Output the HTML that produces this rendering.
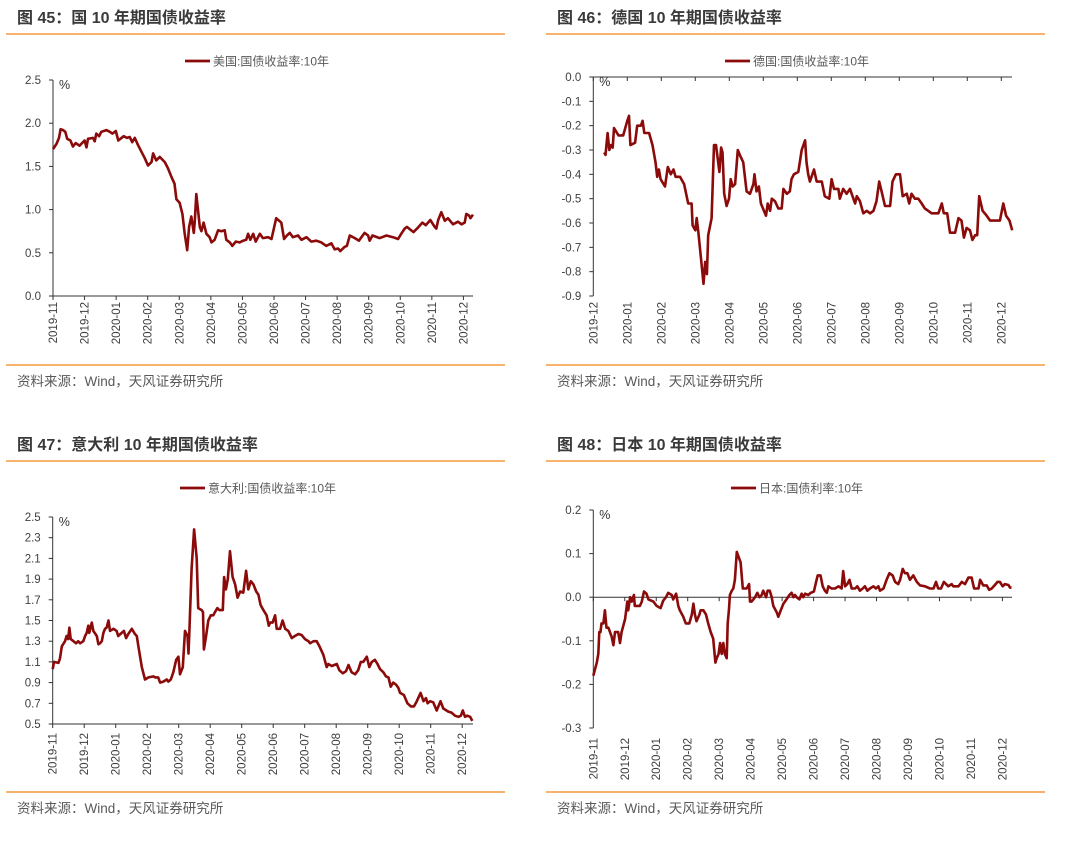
<!DOCTYPE html>
<html><head><meta charset="utf-8"><style>
body{margin:0;width:1080px;height:832px;background:#fff;position:relative;overflow:hidden;font-family:"Liberation Sans","Noto Sans CJK SC",sans-serif}
.panel{position:absolute;width:540px;height:416px}
svg text{font-family:"Liberation Sans","Noto Sans CJK SC",sans-serif}
</style></head><body>
<div class="panel" style="left:0;top:0"><svg id="c0" width="540" height="416"></svg></div>
<div class="panel" style="left:540px;top:0"><svg id="c1" width="540" height="416"></svg></div>
<div class="panel" style="left:0;top:427px"><svg id="c2" width="540" height="416"></svg></div>
<div class="panel" style="left:540px;top:427px"><svg id="c3" width="540" height="416"></svg></div>
<script>
const monthsA=["2019-11","2019-12","2020-01","2020-02","2020-03","2020-04","2020-05","2020-06","2020-07","2020-08","2020-09","2020-10","2020-11","2020-12"];
const monthsB=["2019-12","2020-01","2020-02","2020-03","2020-04","2020-05","2020-06","2020-07","2020-08","2020-09","2020-10","2020-11","2020-12"];
const usTicks=[0,0.5,1.0,1.5,2.0,2.5];
const deTicks=[0,-0.1,-0.2,-0.3,-0.4,-0.5,-0.6,-0.7,-0.8,-0.9];
const itTicks=[0.5,0.7,0.9,1.1,1.3,1.5,1.7,1.9,2.1,2.3,2.5];
const jpTicks=[0.2,0.1,0,-0.1,-0.2,-0.3];
// x = months since first tick month
const usT=[0,.11,.19,.24,.32,.39,.45,.55,.63,.72,.84,1.00,1.06,1.11,1.27,1.32,1.37,1.46,1.53,1.69,1.80,1.88,1.99,2.07,2.24,2.34,2.43,2.51,2.59,2.69,2.80,2.90,3.01,3.12,3.17,3.27,3.38,3.54,3.64,3.75,3.85,3.91,4.01,4.10,4.17,4.25,4.31,4.38,4.46,4.49,4.54,4.65,4.70,4.77,4.86,4.96,5.02,5.12,5.23,5.33,5.44,5.49,5.60,5.68,5.79,5.91,6.02,6.12,6.18,6.25,6.34,6.42,6.55,6.65,6.81,6.92,7.07,7.23,7.32,7.41,7.50,7.60,7.76,7.87,8.03,8.18,8.34,8.50,8.66,8.82,8.92,9.03,9.10,9.24,9.31,9.40,9.56,9.69,9.87,9.98,10.03,10.12,10.35,10.56,10.77,10.93,11.03,11.14,11.21,11.42,11.53,11.70,11.81,11.95,12.09,12.14,12.20,12.30,12.41,12.51,12.67,12.83,12.94,13.04,13.09,13.18,13.22,13.28,13.31];
const usV=[1.70,1.76,1.83,1.93,1.92,1.90,1.82,1.80,1.73,1.77,1.74,1.80,1.72,1.82,1.83,1.79,1.88,1.85,1.90,1.92,1.90,1.88,1.91,1.80,1.85,1.83,1.84,1.78,1.83,1.75,1.67,1.60,1.51,1.55,1.65,1.57,1.61,1.55,1.48,1.38,1.30,1.12,1.08,0.95,0.73,0.53,0.80,0.92,0.73,0.85,1.18,0.80,0.75,0.85,0.72,0.68,0.62,0.65,0.76,0.75,0.76,0.65,0.62,0.58,0.63,0.62,0.64,0.65,0.72,0.65,0.72,0.63,0.72,0.67,0.68,0.66,0.90,0.85,0.66,0.70,0.73,0.68,0.70,0.65,0.68,0.63,0.64,0.62,0.58,0.61,0.54,0.55,0.52,0.57,0.58,0.70,0.67,0.64,0.73,0.70,0.64,0.70,0.67,0.70,0.68,0.66,0.72,0.78,0.80,0.74,0.78,0.85,0.82,0.88,0.80,0.78,0.88,0.97,0.87,0.90,0.83,0.86,0.83,0.85,0.95,0.93,0.90,0.93,0.92];
const deT=[.32,.36,.42,.47,.52,.57,.61,.74,.88,1.00,1.05,1.09,1.23,1.29,1.40,1.45,1.50,1.64,1.74,1.83,1.88,1.93,1.98,2.11,2.19,2.28,2.36,2.42,2.55,2.67,2.79,2.89,2.92,3.00,3.04,3.09,3.17,3.24,3.29,3.34,3.38,3.48,3.55,3.61,3.71,3.76,3.80,3.85,3.92,3.99,4.04,4.10,4.17,4.25,4.31,4.41,4.51,4.61,4.71,4.74,4.80,4.87,4.93,5.08,5.13,5.20,5.25,5.34,5.44,5.54,5.59,5.69,5.78,5.83,5.90,6.03,6.13,6.23,6.27,6.32,6.37,6.49,6.57,6.72,6.81,6.94,7.01,7.08,7.21,7.25,7.35,7.45,7.55,7.65,7.70,7.75,7.84,7.94,8.04,8.14,8.24,8.33,8.41,8.48,8.58,8.73,8.80,8.90,9.02,9.10,9.22,9.29,9.36,9.46,9.56,9.66,9.75,9.85,9.95,10.15,10.25,10.31,10.41,10.49,10.64,10.74,10.83,10.90,10.98,11.08,11.15,11.23,11.29,11.35,11.45,11.57,11.67,11.96,12.06,12.14,12.24,12.32];
const deV=[-.31,-.32,-.23,-.30,-.28,-.29,-.21,-.24,-.24,-.18,-.16,-.28,-.27,-.20,-.20,-.18,-.23,-.23,-.28,-.35,-.41,-.38,-.42,-.45,-.37,-.40,-.38,-.41,-.41,-.44,-.52,-.52,-.61,-.63,-.58,-.64,-.75,-.85,-.76,-.81,-.65,-.58,-.28,-.28,-.39,-.29,-.31,-.48,-.53,-.50,-.42,-.45,-.44,-.30,-.32,-.35,-.47,-.48,-.44,-.40,-.47,-.45,-.52,-.57,-.52,-.55,-.50,-.51,-.54,-.54,-.46,-.48,-.47,-.42,-.40,-.39,-.30,-.26,-.35,-.40,-.43,-.38,-.43,-.43,-.49,-.50,-.42,-.46,-.46,-.50,-.46,-.48,-.46,-.50,-.52,-.49,-.51,-.56,-.55,-.56,-.55,-.51,-.43,-.47,-.53,-.53,-.43,-.40,-.40,-.49,-.48,-.52,-.48,-.50,-.50,-.52,-.54,-.55,-.56,-.56,-.52,-.56,-.56,-.64,-.64,-.58,-.59,-.66,-.62,-.63,-.67,-.65,-.65,-.49,-.55,-.57,-.59,-.59,-.52,-.57,-.59,-.63];
const itT=[0,.04,.18,.23,.29,.39,.44,.49,.53,.57,.66,.74,.81,.87,.97,1.03,1.08,1.13,1.16,1.24,1.29,1.40,1.45,1.50,1.56,1.61,1.66,1.71,1.77,1.82,1.93,2.03,2.08,2.19,2.26,2.33,2.40,2.51,2.61,2.67,2.72,2.83,2.93,3.04,3.20,3.25,3.35,3.41,3.51,3.62,3.67,3.75,3.83,3.92,3.99,4.04,4.13,4.20,4.28,4.31,4.34,4.41,4.49,4.57,4.62,4.73,4.77,4.80,4.87,4.94,5.02,5.10,5.15,5.23,5.29,5.40,5.44,5.50,5.56,5.63,5.71,5.79,5.87,5.95,6.05,6.14,6.21,6.29,6.37,6.46,6.53,6.60,6.69,6.79,6.86,6.90,6.98,7.06,7.11,7.22,7.30,7.38,7.48,7.59,7.69,7.80,7.90,8.01,8.12,8.17,8.28,8.38,8.47,8.59,8.70,8.75,8.86,8.94,9.02,9.10,9.21,9.31,9.39,9.49,9.60,9.70,9.78,9.86,9.97,10.05,10.13,10.23,10.31,10.39,10.50,10.58,10.66,10.73,10.81,10.90,10.97,11.03,11.15,11.26,11.37,11.47,11.56,11.68,11.77,11.85,11.90,11.98,12.08,12.19,12.31,12.40,12.56,12.66,12.77,12.88,12.96,13.02,13.09,13.16,13.25,13.32];
const itV=[1.03,1.10,1.09,1.13,1.25,1.30,1.35,1.32,1.43,1.32,1.30,1.28,1.30,1.28,1.30,1.35,1.38,1.45,1.38,1.48,1.40,1.35,1.27,1.28,1.30,1.38,1.42,1.43,1.50,1.40,1.42,1.40,1.35,1.38,1.40,1.33,1.37,1.42,1.37,1.35,1.25,1.05,0.93,0.95,0.96,0.95,0.95,0.90,0.91,0.93,0.91,0.93,1.00,1.12,1.15,0.98,1.05,1.40,1.35,1.18,1.40,2.00,2.38,2.10,1.62,1.60,1.58,1.22,1.35,1.50,1.55,1.55,1.58,1.62,1.60,1.60,1.92,1.80,1.90,2.17,1.92,1.85,1.72,1.78,1.77,1.98,1.80,1.88,1.85,1.78,1.75,1.65,1.60,1.55,1.45,1.48,1.48,1.55,1.42,1.42,1.50,1.42,1.40,1.33,1.35,1.37,1.36,1.32,1.30,1.28,1.30,1.30,1.25,1.17,1.05,1.08,1.06,1.07,1.08,1.02,0.99,1.01,1.07,1.00,0.98,1.02,1.10,1.10,1.15,1.05,1.10,1.12,1.08,1.03,1.00,0.96,0.95,0.86,0.90,0.88,0.85,0.80,0.78,0.70,0.67,0.67,0.72,0.80,0.72,0.75,0.70,0.72,0.71,0.63,0.72,0.65,0.62,0.61,0.58,0.57,0.58,0.63,0.57,0.58,0.57,0.53];
const jpT=[0,.11,.16,.19,.23,.26,.32,.37,.42,.48,.58,.64,.69,.79,.85,.90,1.01,1.08,1.11,1.17,1.22,1.29,1.32,1.43,1.48,1.54,1.61,1.69,1.75,1.91,2.01,2.14,2.22,2.31,2.38,2.49,2.54,2.63,2.70,2.75,2.86,2.94,3.05,3.13,3.18,3.23,3.28,3.37,3.41,3.50,3.58,3.65,3.73,3.81,3.88,3.92,3.98,4.03,4.08,4.13,4.18,4.24,4.27,4.31,4.34,4.40,4.45,4.50,4.56,4.63,4.68,4.75,4.82,4.87,4.95,4.98,5.03,5.14,5.21,5.28,5.35,5.40,5.49,5.54,5.61,5.67,5.72,5.83,5.88,5.93,6.04,6.14,6.23,6.30,6.36,6.41,6.46,6.55,6.62,6.67,6.73,6.83,6.91,7.01,7.08,7.13,7.22,7.29,7.36,7.42,7.47,7.57,7.68,7.79,7.89,7.94,8.00,8.07,8.14,8.21,8.32,8.39,8.47,8.56,8.63,8.71,8.79,8.90,8.98,9.06,9.11,9.22,9.32,9.41,9.51,9.59,9.69,9.75,9.83,9.90,9.98,10.06,10.17,10.28,10.38,10.54,10.70,10.81,10.89,10.96,11.05,11.14,11.28,11.39,11.44,11.60,11.71,11.81,11.92,12.02,12.10,12.24,12.29,12.39,12.50,12.58,12.66,12.76,12.84,12.92,13.01,13.08,13.19,13.24,13.29];
const jpV=[-.18,-.15,-.13,-.08,-.08,-.06,-.06,-.03,-.07,-.07,-.09,-.11,-.08,-.08,-.105,-.08,-.05,-.01,-.03,0,-.01,.005,-.02,-.02,-.02,-.01,.013,.008,-.005,-.01,-.02,-.025,-.008,0,.01,.005,-.005,.008,-.02,-.03,-.045,-.06,-.06,-.04,-.015,-.04,-.055,-.04,-.03,-.03,-.04,-.06,-.08,-.095,-.15,-.14,-.13,-.105,-.13,-.105,-.13,-.14,-.06,-.03,.005,.015,.02,.04,.104,.09,.08,.02,.02,.02,.03,-.01,-.01,0,.01,0,.005,.015,0,.015,.015,0,-.02,-.035,-.045,-.035,-.015,-.005,.005,.01,0,.005,0,-.005,.008,0,.008,.005,.01,.013,.035,.05,.05,.025,.015,.01,.025,.02,.02,.025,.02,.06,.025,.03,.04,.02,.02,.025,.015,.02,.025,.015,.02,.025,.02,.025,.015,.02,.04,.055,.05,.035,.03,.04,.065,.055,.055,.04,.05,.035,.027,.025,.02,.02,.035,.02,.02,.035,.025,.03,.025,.025,.035,.03,.045,.045,.02,.02,.04,.027,.027,.017,.02,.028,.035,.035,.025,.03,.028,.022,.022];

const NS='http://www.w3.org/2000/svg';
function mk(svg,tag,attrs,text){const e=document.createElementNS(NS,tag);for(const k in attrs)e.setAttribute(k,attrs[k]);if(text!==undefined)e.textContent=text;svg.appendChild(e);return e;}
const cfgs=[
 {id:'c0',title:'图 45：国 10 年期国债收益率',legend:'美国:国债收益率:10年',months:monthsA,ticks:usTicks,T:usT,V:usV,x0:53,ppm:31.57,xEnd:473,vA:0,yA:296,vB:2.5,yB:80,axisV:0,dec:1,lblTop:302,legX:185},
 {id:'c1',title:'图 46：德国 10 年期国债收益率',legend:'德国:国债收益率:10年',months:monthsB,ticks:deTicks,T:deT,V:deV,x0:53.3,ppm:34,xEnd:472,vA:0,yA:77,vB:-0.9,yB:296,axisV:0,dec:1,lblTop:302,legX:185},
 {id:'c2',title:'图 47：意大利 10 年期国债收益率',legend:'意大利:国债收益率:10年',months:monthsA,ticks:itTicks,T:itT,V:itV,x0:52.7,ppm:31.5,xEnd:473,vA:0.5,yA:297,vB:2.5,yB:90,axisV:0.5,dec:1,lblTop:306,legX:180},
 {id:'c3',title:'图 48：日本 10 年期国债收益率',legend:'日本:国债利率:10年',months:monthsA,ticks:jpTicks,T:jpT,V:jpV,x0:53.3,ppm:31.47,xEnd:472,vA:0.2,yA:83,vB:-0.3,yB:301,axisV:0,dec:1,lblTop:311,legX:191}
];
cfgs.forEach(c=>{
 const svg=document.getElementById(c.id);
 const sx=t=>c.x0+t*c.ppm;
 const sy=v=>c.yA+(v-c.vA)*(c.yB-c.yA)/(c.vB-c.vA);
 let e;
 e=mk(svg,'text',{x:17,y:23,'font-size':16,'font-weight':'bold',fill:'#3a3a3a'},c.title);
 
 
 e=mk(svg,'line',{x1:6,x2:505,y1:34,y2:34,stroke:'#f39a3d','stroke-width':1.5});
 
 
 e=mk(svg,'line',{x1:6,x2:505,y1:365,y2:365,stroke:'#f39a3d','stroke-width':1.5});
 
 
 e=mk(svg,'text',{x:17,y:386,'font-size':13.5,fill:'#595959'},'资料来源：Wind，天风证券研究所');
 
 
 e=mk(svg,'line',{x1:c.legX,x2:c.legX+25,y1:61,y2:61,stroke:'#8b0a0a','stroke-width':2.8});
 
 
 e=mk(svg,'text',{x:c.legX+28,y:65.5,'font-size':12,fill:'#595959','font-family':'"Liberation Serif","Noto Serif CJK SC",serif'},c.legend);
 
 
 const yTop=Math.min(sy(c.ticks[0]),sy(c.ticks[c.ticks.length-1]));
 const yBot=Math.max(sy(c.ticks[0]),sy(c.ticks[c.ticks.length-1]));
 e=mk(svg,'line',{x1:c.x0,x2:c.x0,y1:yTop,y2:yBot,stroke:'#333','stroke-width':1});
 
 
 c.ticks.forEach(v=>{
  const y=sy(v);
  e=mk(svg,'line',{x1:c.x0-4,x2:c.x0,y1:y,y2:y,stroke:'#333'});
  
  
  e=mk(svg,'text',{x:c.x0-12,y:y+4,'font-size':11.5,fill:'#404040','text-anchor':'end'},v.toFixed(c.dec));
  
  
 });
 e=mk(svg,'text',{x:c.x0+6,y:yTop+9,'font-size':12.5,fill:'#333'},'%');
 
 
 const ay=sy(c.axisV);
 e=mk(svg,'line',{x1:c.x0,x2:c.xEnd,y1:ay,y2:ay,stroke:'#333','stroke-width':1});
 
 
 c.months.forEach((m,i)=>{
  const x=sx(i);
  e=mk(svg,'line',{x1:x,x2:x,y1:ay,y2:ay+4,stroke:'#333'});
  
  
  e=mk(svg,'text',{x:0,y:0,'font-size':11.5,fill:'#404040','text-anchor':'end',transform:`translate(${x+4},${c.lblTop}) rotate(-90)`},m);
  
  
 });
 const d=c.T.map((t,i)=>(i?'L':'M')+sx(t).toFixed(1)+','+sy(c.V[i]).toFixed(1)).join('');
 e=mk(svg,'path',{d:d,fill:'none',stroke:'#8b0a0a','stroke-width':2.6,'stroke-linejoin':'round'});
 
 
});
</script>
</body></html>
